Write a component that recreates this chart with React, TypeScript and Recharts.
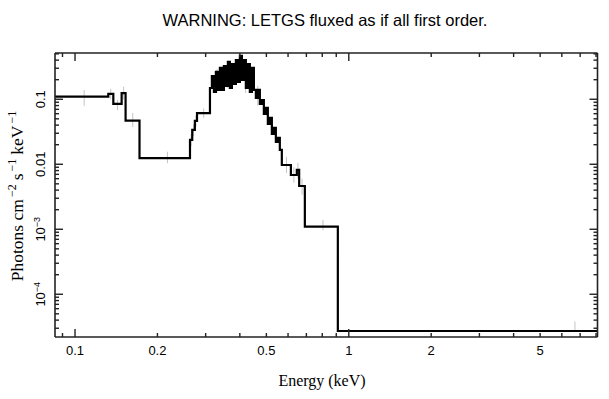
import { ComposedChart, Line, Scatter, ErrorBar, XAxis, YAxis } from 'recharts';

// bin edges (keV) — last entry closes the final bin
const EDGES = [
  0.0845, 0.1323, 0.138, 0.148, 0.153, 0.172, 0.263, 0.268, 0.274, 0.279,
  0.3111, 0.3162, 0.3216, 0.327, 0.3326, 0.3382, 0.3439, 0.3498, 0.3557, 0.3617,
  0.3678, 0.3741, 0.3804, 0.3869, 0.3934, 0.4001, 0.4069, 0.4137, 0.4207, 0.4279,
  0.4351, 0.4426, 0.4501, 0.4577, 0.4654, 0.4733, 0.4814, 0.4895, 0.4978, 0.5062,
  0.5148, 0.5236, 0.5324, 0.5415, 0.5506, 0.5599, 0.5694, 0.6144, 0.6459, 0.6588,
  0.691, 0.912, 8.1,
];

// photons cm^-2 s^-1 keV^-1 per bin
const FLUX = [
  0.1096, 0.121, 0.0847, 0.124, 0.0469, 0.0124, 0.0237, 0.0337, 0.0464, 0.061,
  0.149, 0.228, 0.1295, 0.263, 0.139, 0.303, 0.139, 0.325, 0.16, 0.375,
  0.149, 0.349, 0.172, 0.402, 0.185, 0.464, 0.198, 0.402, 0.149, 0.349,
  0.1295, 0.303, 0.139, 0.1047, 0.139, 0.0847, 0.0975, 0.0594, 0.0735, 0.0417,
  0.0516, 0.0292, 0.0362, 0.022, 0.0254, 0.0166, 0.00975, 0.00684, 0.00817, 0.00463,
  0.0011, 0.0000272,
];

// error bars (bin centre, value, low, high)
const ERR_E = [0.108, 0.135, 0.143, 0.1505, 0.1625, 0.2175, 0.2655, 0.271, 0.2765, 0.295, 0.33, 0.36, 0.4, 0.42, 0.44, 0.465, 0.592, 0.63, 0.652, 0.675, 0.805, 6.7];
const ERR_V = [0.1096, 0.121, 0.0847, 0.124, 0.0469, 0.0124, 0.0237, 0.0337, 0.0464, 0.061, 0.2, 0.25, 0.3, 0.22, 0.2, 0.12, 0.00975, 0.00684, 0.00817, 0.00463, 0.0011, 0.0000272];
const ERR_LO = [0.079, 0.1, 0.068, 0.099, 0.0375, 0.0104, 0.019, 0.027, 0.038, 0.052, 0.125, 0.15, 0.18, 0.125, 0.13, 0.08, 0.00733, 0.0052, 0.006, 0.0034, 0.000975, 0.0000272];
const ERR_HI = [0.139, 0.145, 0.098, 0.156, 0.0614, 0.0156, 0.029, 0.041, 0.056, 0.072, 0.29, 0.34, 0.5, 0.32, 0.28, 0.16, 0.013, 0.009, 0.0105, 0.006, 0.00139, 0.000038];

const X_TICKS = [0.09, 0.1, 0.2, 0.3, 0.4, 0.5, 0.6, 0.7, 0.8, 0.9, 1, 2, 3, 4, 5, 6, 7, 8];
const X_LABELS = [
  { v: 0.1, t: '0.1' }, { v: 0.2, t: '0.2' }, { v: 0.5, t: '0.5' },
  { v: 1, t: '1' }, { v: 2, t: '2' }, { v: 5, t: '5' },
];
const Y_TICKS = [
  3e-5, 4e-5, 5e-5, 6e-5, 7e-5, 8e-5, 9e-5, 1e-4,
  2e-4, 3e-4, 4e-4, 5e-4, 6e-4, 7e-4, 8e-4, 9e-4, 1e-3,
  2e-3, 3e-3, 4e-3, 5e-3, 6e-3, 7e-3, 8e-3, 9e-3, 0.01,
  0.02, 0.03, 0.04, 0.05, 0.06, 0.07, 0.08, 0.09, 0.1,
  0.2, 0.3, 0.4, 0.5,
];
const Y_LABELS = [
  { v: 0.1, t: '0.1' }, { v: 0.01, t: '0.01' }, { v: 1e-3, t: '10', e: '−3' }, { v: 1e-4, t: '10', e: '−4' },
];

const X_DOMAIN = [0.0845, 8.1];
const Y_DOMAIN = [2.2e-5, 0.515];

const FRAME = '#222';
const SANS = '"Liberation Sans", Arial, sans-serif';
const SERIF = '"Liberation Serif", "Times New Roman", serif';

const steps = EDGES.map((e, i) => ({ e, v: FLUX[Math.min(i, FLUX.length - 1)] }));
const errs = ERR_E.map((e, i) => ({ e, v: ERR_V[i], err: [ERR_V[i] - ERR_LO[i], ERR_HI[i] - ERR_V[i]] }));

const isDecade = (v: number) => Math.abs(Math.log10(v) - Math.round(Math.log10(v))) < 1e-6;
const tickLen = (v: number) => (isDecade(v) ? 8 : 4);
const near = (a: number, b: number) => Math.abs(a - b) / b < 1e-6;

function BottomTick(props: any) {
  const { x, y, payload } = props;
  const lab = X_LABELS.find((l) => near(payload.value, l.v));
  return (
    <g>
      <line x1={x} y1={y} x2={x} y2={y - tickLen(payload.value)} stroke={FRAME} strokeWidth={1.4} />
      {lab && (
        <text x={x} y={y + 18} textAnchor="middle" fontSize={13} fontFamily={SANS} fill="#000">
          {lab.t}
        </text>
      )}
    </g>
  );
}

function TopTick(props: any) {
  const { x, y, payload } = props;
  return <line x1={x} y1={y} x2={x} y2={y + tickLen(payload.value)} stroke={FRAME} strokeWidth={1.4} />;
}

function LeftTick(props: any) {
  const { x, y, payload } = props;
  const lab = Y_LABELS.find((l) => near(payload.value, l.v));
  return (
    <g>
      <line x1={x} y1={y} x2={x + tickLen(payload.value)} y2={y} stroke={FRAME} strokeWidth={1.4} />
      {lab && (
        <g transform={`translate(${x - 10}, ${y}) rotate(-90)`}>
          <text x={0} y={0} textAnchor="middle" fontSize={13} fontFamily={SANS} fill="#000">
            {lab.t}
            {lab.e && (
              <tspan dy={-5} fontSize={9}>
                {lab.e}
              </tspan>
            )}
          </text>
        </g>
      )}
    </g>
  );
}

function RightTick(props: any) {
  const { x, y, payload } = props;
  return <line x1={x} y1={y} x2={x - tickLen(payload.value)} y2={y} stroke={FRAME} strokeWidth={1.4} />;
}

const supStyle = { fontSize: 12, verticalAlign: 7, lineHeight: 0, marginLeft: 2, marginRight: 4 };

export default function App() {
  const axisLine = { stroke: FRAME, strokeWidth: 1.6 };
  return (
    <div style={{ position: 'absolute', left: 0, top: 0, width: 609, height: 399, background: '#fff' }}>
      <div
        style={{
          position: 'absolute', left: 0, top: 10, width: 650, textAlign: 'center',
          fontFamily: SANS, fontSize: 16.5, lineHeight: '20px', color: '#000', whiteSpace: 'nowrap',
        }}
      >
        WARNING: LETGS fluxed as if all first order.
      </div>
      <ComposedChart width={609} height={399} margin={{ top: 0, right: 0, bottom: 0, left: 0 }}>
        <XAxis
          xAxisId="b" type="number" dataKey="e" scale="log" domain={X_DOMAIN} allowDataOverflow
          ticks={X_TICKS} interval={0} tick={BottomTick} tickSize={0} tickMargin={0} tickLine={false}
          axisLine={axisLine} height={62}
        />
        <XAxis
          xAxisId="t" orientation="top" type="number" dataKey="e" scale="log" domain={X_DOMAIN} allowDataOverflow
          ticks={X_TICKS} interval={0} tick={TopTick} tickSize={0} tickMargin={0} tickLine={false}
          axisLine={axisLine} height={53}
        />
        <YAxis
          yAxisId="l" type="number" scale="log" domain={Y_DOMAIN} allowDataOverflow
          ticks={Y_TICKS} interval={0} tick={LeftTick} tickSize={0} tickMargin={0} tickLine={false}
          axisLine={axisLine} width={55}
        />
        <YAxis
          yAxisId="r" orientation="right" type="number" scale="log" domain={Y_DOMAIN} allowDataOverflow
          ticks={Y_TICKS} interval={0} tick={RightTick} tickSize={0} tickMargin={0} tickLine={false}
          axisLine={axisLine} width={11.5}
        />
        <Scatter
          xAxisId="b" yAxisId="l" data={errs} dataKey="v" shape={() => <g />} isAnimationActive={false}
        >
          <ErrorBar dataKey="err" direction="y" width={0} stroke="#c4c4c4" strokeWidth={1} isAnimationActive={false} />
        </Scatter>
        <Line
          xAxisId="b" yAxisId="l" data={steps} dataKey="v" type="stepAfter" stroke="#000" strokeWidth={2.2}
          dot={false} activeDot={false} isAnimationActive={false}
        />
      </ComposedChart>
      <div
        style={{
          position: 'absolute', left: 0, top: 372, width: 644, textAlign: 'center',
          fontFamily: SERIF, fontSize: 16, lineHeight: '18px', color: '#000', whiteSpace: 'nowrap',
        }}
      >
        Energy (keV)
      </div>
      <div
        style={{
          position: 'absolute', left: 17, top: 194, transform: 'translate(-50%, -50%) rotate(-90deg)',
          fontFamily: SERIF, fontSize: 17.5, lineHeight: '18px', color: '#000', whiteSpace: 'nowrap',
        }}
      >
        Photons cm<sup style={supStyle}>−2</sup>s<sup style={supStyle}>−1</sup>keV<sup style={supStyle}>−1</sup>
      </div>
    </div>
  );
}
